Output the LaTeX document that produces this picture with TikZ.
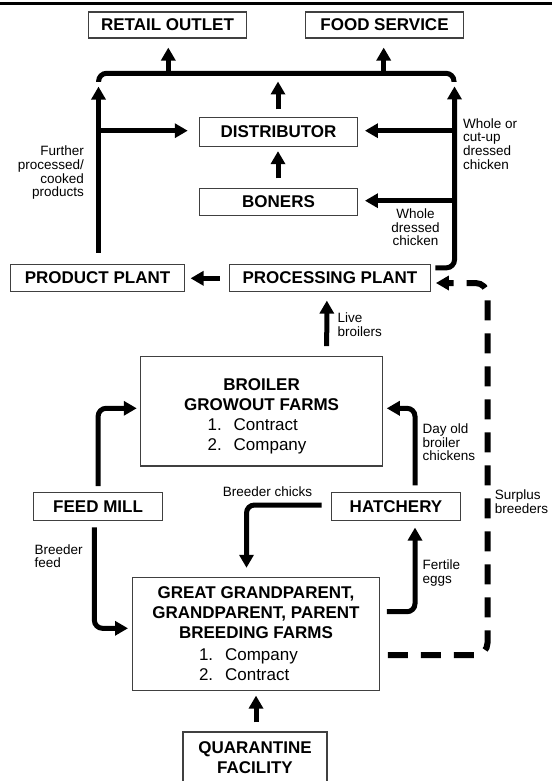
\documentclass[tikz,border=0pt]{standalone}
\usepackage{fontspec}
\setmainfont{Liberation Sans}
\usetikzlibrary{arrows.meta,calc}
\begin{document}
\begin{tikzpicture}[x=1pt,y=-1pt,
  box/.style={draw=black!75,line width=1.1pt,inner sep=0pt,align=center,
    font=\bfseries\fontsize{17}{20}\selectfont},
  arr/.style={line width=5pt,-{Triangle[length=13pt,width=14pt]}},
  barline/.style={line width=5pt},
  dasharr/.style={line width=6pt,dash pattern=on 20pt off 13pt,-{Triangle[length=13pt,width=14pt]}},
  rc/.style={rounded corners=8pt},
  lbl/.style={font=\fontsize{13.5}{13.7}\selectfont,inner sep=0pt}]
\useasboundingbox (0,0) rectangle (552,781);
\draw[line width=3pt] (0,4) -- (552,4);

% boxes
\node[box,minimum width=157.7pt,minimum height=26pt] (retail) at (167.5,25) {RETAIL OUTLET};
\node[box,minimum width=157.7pt,minimum height=26pt] (food) at (384.5,25) {FOOD SERVICE};
\node[box,minimum width=158.4pt,minimum height=28.7pt] (dist) at (278.5,131.7) {DISTRIBUTOR};
\node[box,minimum width=158.4pt,minimum height=26.7pt] (boners) at (278.5,201.7) {BONERS};
\node[box,minimum width=174pt,minimum height=27.7pt] (product) at (97.5,278) {PRODUCT PLANT};
\node[box,minimum width=200.7pt,minimum height=27.7pt] (proc) at (330,278) {PROCESSING PLANT};
\node[box,minimum width=241.6pt,minimum height=109.3pt] (broiler) at (261.6,411.3)
  {\rule{0pt}{21.5pt}BROILER\\GROWOUT FARMS\\\mdseries\makebox[108pt][l]{1.\hspace{0.7em}Contract}\\\mdseries\makebox[108pt][l]{2.\hspace{0.7em}Company}};
\node[box,minimum width=129.2pt,minimum height=28.4pt] (feed) at (98.1,506.5) {FEED MILL};
\node[box,minimum width=128.5pt,minimum height=28.4pt] (hatch) at (396,506.5) {HATCHERY};
\node[box,minimum width=246.5pt,minimum height=112.7pt] (ggp) at (256,633.7)
  {GREAT GRANDPARENT,\\GRANDPARENT, PARENT\\BREEDING FARMS\\[1.6pt]\mdseries\makebox[114pt][l]{1.\hspace{0.7em}Company}\\\mdseries\makebox[114pt][l]{2.\hspace{0.7em}Contract}};
\node[box,minimum width=144pt,minimum height=52pt] (quar) at (255,758) {QUARANTINE\\FACILITY};

% top distribution bar
\coordinate (barL) at (98.6,82);
\coordinate (barR) at (454,82);
\draw[barline,rc] (barL) -- ++(0,-8.7) -| (barR);
\draw[arr] ($(retail.south)+(0.8,35.3)$) -- ($(retail.south)+(0.8,9)$);
\draw[arr] ($(food.south)+(-0.8,35.3)$) -- ($(food.south)+(-0.8,9)$);

% left vertical from product plant
\draw[arr] ($(product.north)+(1,-11)$) -- ($(product.north)+(1,-177)$);
\draw[arr] ($(dist.west)+(-100.7,-1)$) -- ($(dist.west)+(-11,-1)$);
% distributor up, boners up
\draw[arr] ($(dist.north)+(-0.5,-7.3)$) -- ($(dist.north)+(-0.5,-35.3)$);
\draw[arr] ($(boners.north)+(-0.5,-9.35)$) -- ($(boners.north)+(-0.5,-36.65)$);
% right vertical from processing plant
\draw[arr,rc] ($(proc.north east)+(4.5,4.2)$) -| ($(proc.north east)+(23.6,-177.2)$);
\draw[arr] ($(dist.east)+(96.3,-1)$) -- ($(dist.east)+(6.7,-1)$);
\draw[arr] ($(boners.east)+(96.3,-1)$) -- ($(boners.east)+(6.7,-1)$);
% processing -> product
\draw[arr] ($(proc.west)+(-9.6,0.3)$) -- ($(product.east)+(5.5,0.3)$);
% surplus breeders (dashed)
\draw[dasharr,rounded corners=12pt] ($(ggp.east)+(8,21.3)$) -| ($(proc.east)+(56.6,5)$) -- ($(proc.east)+(5,5)$);
% live broilers
\draw[arr] ($(broiler.north)+(65.1,-10)$) -- ($(proc.south)+(-3.15,8.2)$);
% feed mill -> broiler
\draw[arr,rc] ($(feed.north)+(0,-5.6)$) |- ($(broiler.west)+(-3.5,-3)$);
% hatchery -> broiler
\draw[arr,rc] ($(hatch.north)+(19,-6.3)$) |- ($(broiler.east)+(3.8,-3)$);
% breeder chicks
\draw[arr,rc] ($(hatch.west)+(-9.7,-1.5)$) -| ($(ggp.north)+(-9.5,-9)$);
% breeder feed
\draw[arr,rc] ($(feed.south)+(-3.7,6)$) |- ($(ggp.west)+(-4.2,-5.4)$);
% fertile eggs
\draw[arr,rc] ($(ggp.east)+(7,-22)$) -| ($(hatch.south)+(19,6.3)$);
% quarantine
\draw[arr] ($(quar.north)+(1,-9)$) -- ($(ggp.south)+(0,5)$);

% labels
\node[lbl,anchor=east,align=right] (lfurther) at (84,172.8) {Further\\processed/\\cooked\\products};
\node[lbl,anchor=west,align=left] (lwhole) at (463,143.8) {Whole or\\cut-up\\dressed\\chicken};
\node[lbl,align=center] (lwd) at (415.5,227.2) {Whole\\dressed\\chicken};
\node[lbl,anchor=west,align=left] (llive) at (337.3,325) {Live\\broilers};
\node[lbl,anchor=west,align=left] (lday) at (422.5,442.4) {Day old\\broiler\\chickens};
\node[lbl] (lchicks) at (267.6,491.7) {Breeder chicks};
\node[lbl,anchor=west,align=left] (lsurplus) at (494.7,501.7) {Surplus\\breeders};
\node[lbl,anchor=west,align=left] (lfeed) at (34.5,556.3) {Breeder\\feed};
\node[lbl,anchor=west,align=left] (legg) at (422.5,573.3) {Fertile\\eggs};
\end{tikzpicture}
\end{document}
